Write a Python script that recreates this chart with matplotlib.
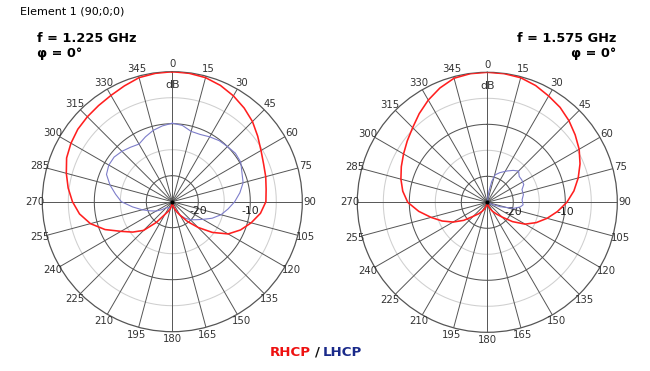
import numpy as np
import matplotlib
matplotlib.use("Agg")
import matplotlib.pyplot as plt

# --- datos (dB, angulo theta en grados) ---
ANG = np.arange(0, 360, 7.5)

rhcp_1225 = [0.0, -0.1, -0.3, -0.8, -1.5, -2.3, -3.2, -4.3,
             -5.3, -6.0, -6.4, -6.8, -7.0, -7.9, -9.3, -10.8,
             -12.6, -15.3, -18.0, -20.2, -22.0, -23.0, -23.8, -24.4,
             -24.8, -24.4, -23.7, -23.0, -22.2, -20.0, -17.2, -15.4,
             -13.6, -11.0, -8.7, -7.0, -5.8, -4.8, -3.9, -3.0,
             -2.5, -2.1, -1.9, -1.7, -1.4, -0.9, -0.3, -0.1]

lhcp_1225 = [-9.9, -10.2, -11.0, -11.0, -10.6, -10.2, -10.0, -9.7,
             -9.8, -10.5, -10.9, -11.9, -13.0, -14.2, -15.3, -16.7,
             -18.2, -19.3, -20.1, -21.0, -22.0, -23.1, -23.9, -24.3,
             -24.5, -24.3, -24.0, -23.8, -23.6, -23.5, -23.4, -22.5,
             -21.4, -20.4, -19.0, -17.3, -15.2, -14.0, -12.6, -11.3,
             -10.9, -10.9, -11.3, -11.8, -12.2, -11.5, -10.8, -10.3]

rhcp_1575 = [0.0, -0.05, -0.2, -0.7, -1.4, -2.0, -2.8, -3.7,
             -4.6, -5.7, -6.9, -8.2, -9.7, -11.4, -13.1, -14.8,
             -16.6, -18.9, -21.0, -22.2, -23.0, -23.7, -24.3, -24.7,
             -24.9, -24.7, -24.3, -23.6, -23.0, -22.2, -21.2, -19.3,
             -17.4, -15.6, -13.8, -11.7, -9.7, -8.6, -7.8, -7.1,
             -6.4, -5.6, -4.7, -3.5, -2.3, -1.2, -0.3, -0.05]

# LHCP a 1.575 GHz: solo visible entre ~5 y ~115 grados
ang_lhcp_1575 = [0, 8, 12, 16, 23, 32, 39, 45, 51, 57, 64, 70, 78, 86,
                 94, 98, 103, 109, 114, 120, 180, 240, 300, 360]
lhcp_1575 = [-25.0, -23.0, -20.9, -19.5, -18.8, -17.9, -17.1, -16.5,
             -17.1, -17.1, -17.2, -17.9, -17.9, -18.3, -18.1, -18.6,
             -19.8, -22.4, -24.0, -25.0, -25.0, -25.0, -25.0, -25.0]

FREQS = ["f = 1.225 GHz", "f = 1.575 GHz"]
R_MIN, R_MAX = -25, 0
RED = "#ff1f1f"
BLUE = "#7d7dca"
GRID_DARK = "#555555"
GRID_LIGHT = "#cfcfcf"

fig = plt.figure(figsize=(6.5, 3.71), dpi=100)
plt.rcParams["font.family"] = ["DejaVu Sans"]


def polar_panel(rect, ang_r, rhcp, ang_l, lhcp):
    ax = fig.add_axes(rect, projection="polar")
    ax.set_theta_zero_location("N")
    ax.set_theta_direction(-1)
    ax.set_ylim(R_MIN, R_MAX)
    ax.grid(False)
    ax.set_xticks([])
    ax.set_yticks([])
    ax.spines["polar"].set_color(GRID_DARK)
    ax.spines["polar"].set_linewidth(0.9)

    th = np.linspace(0, 2 * np.pi, 361)
    for r, c in [(-20, GRID_DARK), (-15, GRID_LIGHT), (-10, GRID_DARK), (-5, GRID_LIGHT)]:
        ax.plot(th, np.full_like(th, r), color=c, lw=0.75, zorder=1)
    for a in range(0, 360, 15):
        ax.plot([np.radians(a)] * 2, [R_MIN, R_MAX], color=GRID_DARK, lw=0.7, zorder=1)
        ax.text(np.radians(a), 1.45, str(a), ha="center", va="center",
                fontsize=7.3, color="#333333", clip_on=False)
    ax.text(0, -2.6, "dB", ha="center", va="center", fontsize=7.8, color="#333333")
    for r in [-20, -10]:
        ax.annotate(str(r), xy=(np.pi / 2, r), xytext=(0, -7), textcoords="offset points",
                    ha="center", va="center", fontsize=7.8, color="#222222")

    # curvas (cerradas)
    a_l = np.radians(list(ang_l) + ([ang_l[0]] if ang_l[-1] != 360 else []))
    v_l = np.maximum(list(lhcp) + ([lhcp[0]] if ang_l[-1] != 360 else []), R_MIN)
    ax.plot(a_l, v_l, color=BLUE, lw=0.8, zorder=3)
    a_r = np.radians(list(ang_r) + [ang_r[0]])
    v_r = np.maximum(list(rhcp) + [rhcp[0]], R_MIN)
    ax.plot(a_r, v_r, color=RED, lw=1.15, zorder=4)
    ax.plot([0], [R_MIN], "k.", ms=4, zorder=5)
    return ax


w, h = 260 / 650, 260 / 371
polar_panel([(172.3 - 130) / 650, (371 - 201.7 - 130) / 371, w, h],
            ANG, rhcp_1225, ANG, lhcp_1225)
polar_panel([(487.3 - 130) / 650, (371 - 202.3 - 130) / 371, w, h],
            ANG, rhcp_1575, ang_lhcp_1575, lhcp_1575)

# textos
fig.text(20 / 650, 1 - 12 / 371, "Element 1 (90;0;0)", fontsize=8.0, va="center", ha="left")
fig.text(37 / 650, 1 - 38 / 371, FREQS[0], fontsize=9.3, fontweight="bold", va="center", ha="left")
fig.text(37 / 650, 1 - 54 / 371, "φ = 0°", fontsize=9.3, fontweight="bold", va="center", ha="left")
fig.text(616 / 650, 1 - 38 / 371, FREQS[1], fontsize=9.3, fontweight="bold", va="center", ha="right")
fig.text(616 / 650, 1 - 54 / 371, "φ = 0°", fontsize=9.3, fontweight="bold", va="center", ha="right")

fig.text(311 / 650, 1 - 352 / 371, "RHCP", fontsize=9.6, fontweight="bold", color="#ee1111",
         va="center", ha="right")
fig.text(317 / 650, 1 - 352 / 371, "/", fontsize=9.6, fontweight="bold", color="#111111",
         va="center", ha="center")
fig.text(323 / 650, 1 - 352 / 371, "LHCP", fontsize=9.6, fontweight="bold", color="#1a2a8a",
         va="center", ha="left")

fig.savefig("out.png", dpi=100)
